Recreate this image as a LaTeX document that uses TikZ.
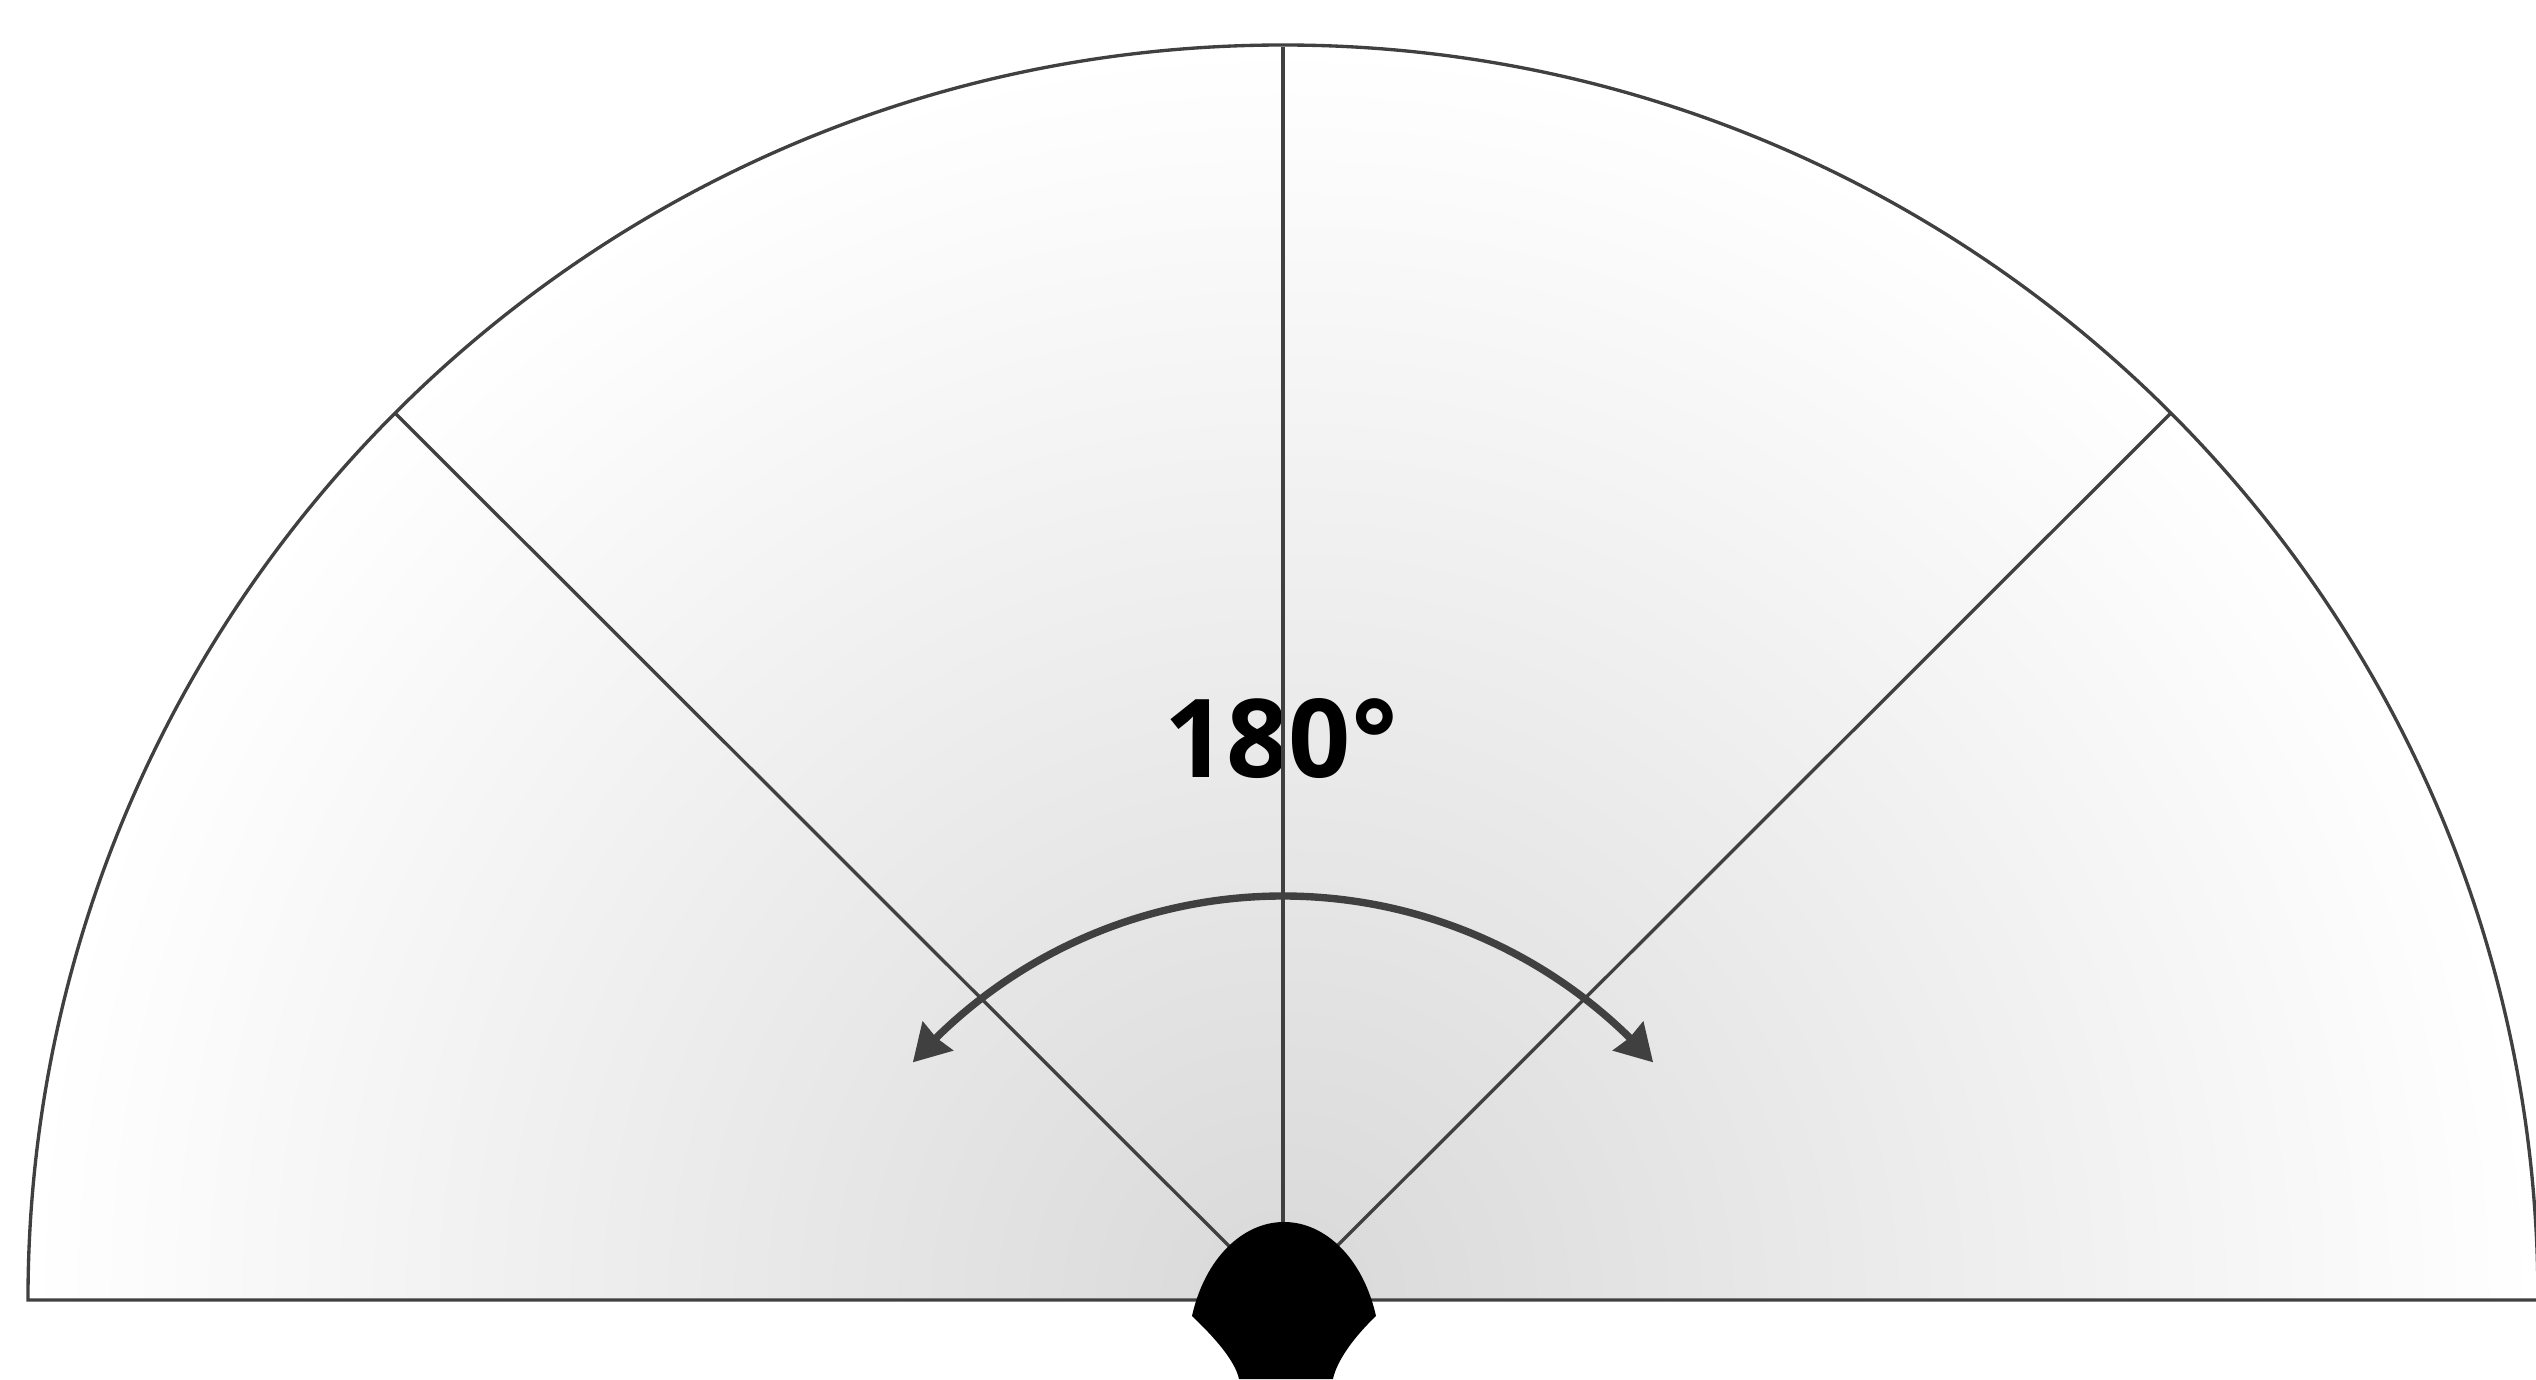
\documentclass[tikz,border=0pt]{standalone}
\usepackage{fontspec}
\setsansfont{Open Sans}
\usetikzlibrary{arrows.meta,bending}
\definecolor{linegray}{HTML}{404040}
\pgfdeclareradialshading{fanglow}{\pgfpoint{0bp}{0bp}}{color(0bp)=(black!15); color(25bp)=(white); color(50bp)=(white)}
\begin{document}
\begin{tikzpicture}[
      fanline/.style={draw=linegray, line width=0.95pt},
      sweeparrow/.style={draw=linegray, line width=2.1pt, -{Stealth[length=0.36cm, width=0.41cm, inset=0.02cm, flex=1]}},
      anglelabel/.style={font=\sffamily\bfseries\fontsize{31}{31}\selectfont, text=black, inner sep=0pt}
    ]
    \useasboundingbox (-12.83,-0.79) rectangle (12.53,13.00);
    \coordinate (apex) at (0,0);
    \coordinate (west) at (-12.55,0);
    \coordinate (east) at (12.55,0);
    \coordinate (north) at (0,12.53);
    \coordinate (northwest) at (-8.87,8.86);
    \coordinate (northeast) at (8.87,8.86);
    \coordinate (sweeptop) at (0,4.04);

    % shaded fan
    \begin{scope}
      \clip (west) arc[start angle=180, end angle=0, radius=12.55] -- cycle;
      \shade[shading=fanglow] (apex) circle (12.55);
    \end{scope}

    \node[anglelabel] (angle) at (-0.02,5.61) {180°};

    \draw[fanline] (west) arc[start angle=180, end angle=0, radius=12.55] -- cycle;
    \draw[fanline] (apex) -- (north);
    \draw[fanline] (apex) -- (northwest);
    \draw[fanline] (apex) -- (northeast);

    % sweep arrows
    \draw[sweeparrow] (sweeptop) arc[start angle=90, end angle=138.4, radius=4.95];
    \draw[sweeparrow] (sweeptop) arc[start angle=90, end angle=41.6, radius=4.95];

    % head
    \fill[black] (-0.91,-0.16) .. controls (-0.78,0.42) and (-0.40,0.78) .. (0.01,0.78)
      .. controls (0.42,0.78) and (0.80,0.42) .. (0.93,-0.16)
      .. controls (0.72,-0.36) and (0.54,-0.60) .. (0.50,-0.79)
      -- (-0.44,-0.79)
      .. controls (-0.48,-0.60) and (-0.70,-0.36) .. cycle;
  \end{tikzpicture}
\end{document}
